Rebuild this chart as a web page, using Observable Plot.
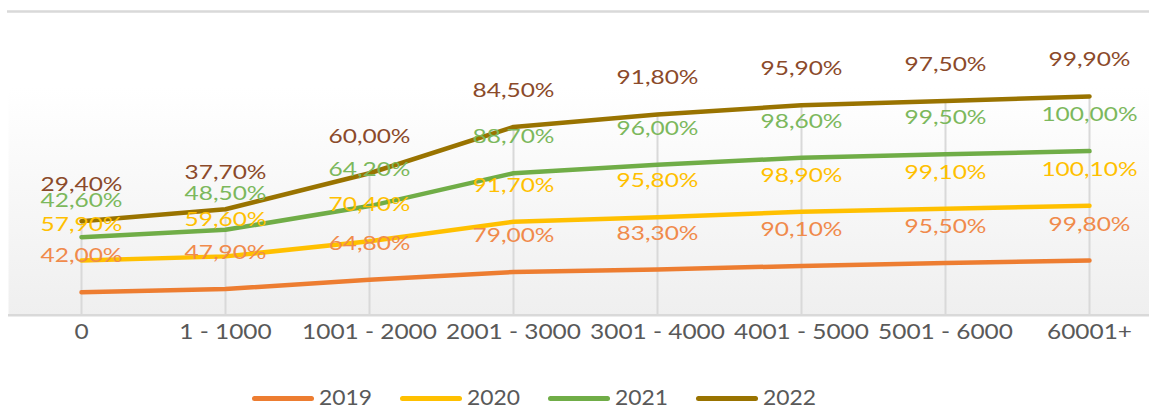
<!DOCTYPE html>
<html><head><meta charset="utf-8">
<script src="https://cdn.jsdelivr.net/npm/d3@7"></script>
<script src="https://cdn.jsdelivr.net/npm/@observablehq/plot@0.6"></script>
<style>
html,body{margin:0;padding:0;background:#fff;}
#wrap{position:relative;width:1149px;height:407px;overflow:hidden;font-family:Lato,sans-serif;}
#chart svg{display:block;}
#legend{position:absolute;left:252px;top:387px;height:20px;display:flex;align-items:center;}
.item{display:flex;align-items:center;width:148px;}
.sw{display:inline-block;width:62px;height:5px;border-radius:2.5px;margin-right:5px;margin-top:3px;}
.lt{display:inline-block;font-size:21px;line-height:20px;color:#595959;transform-origin:left center;}
</style></head><body>
<div id="wrap"><div id="chart"></div><div id="legend"></div></div>
<script>
const categories = ["0","1 - 1000","1001 - 2000","2001 - 3000","3001 - 4000","4001 - 5000","5001 - 6000","60001+"];
const years = ["2019","2020","2021","2022"];
const v2019 = [42.0,47.9,64.8,79.0,83.3,90.1,95.5,99.8];
const v2020 = [57.9,59.6,70.4,91.7,95.8,98.9,99.1,100.1];
const v2021 = [42.6,48.5,64.2,88.7,96.0,98.6,99.5,100.0];
const v2022 = [29.4,37.7,60.0,84.5,91.8,95.9,97.5,99.9];
const yMax = 555;

const series = [v2019, v2020, v2021, v2022];
const lineColors = ["#ED7D31","#FFC000","#70AD47","#997300"];
const labelColors = ["#F08A4B","#FFC000","#7CB85C","#8B4A2A"];

// stacked rows (Excel stacked line)
const rows = [];
const cum = categories.map(() => 0);
series.forEach((vals, s) => {
  vals.forEach((v, i) => {
    cum[i] += v;
    rows.push({cat: categories[i], year: years[s], value: v, top: cum[i]});
  });
});
const totals = categories.map((c, i) => ({cat: c, total: cum[i]}));
const fmt = v => v.toFixed(2).replace(".", ",") + "%";

const marks = [
  Plot.frame({fill: "url(#plotBg)", stroke: "none", insetLeft: -72, insetRight: -59}),
  Plot.ruleY([yMax], {stroke: "#d9d9d9", strokeWidth: 2.5, insetLeft: -73, insetRight: -59}),
  Plot.ruleX(totals, {x: "cat", y1: 0, y2: "total", stroke: "#d9d9d9", strokeWidth: 2}),
  Plot.ruleY([0], {stroke: "#d9d9d9", strokeWidth: 2.5, insetLeft: -72, insetRight: -59}),
  Plot.lineY(rows, {x: "cat", y: "top", z: "year", stroke: "year", strokeWidth: 4.5, strokeLinecap: "round", strokeLinejoin: "round"}),
  Plot.axisX({tickSize: 0, tickPadding: 23.6, fontSize: 21, fill: "#595959", label: null})
];
years.forEach((y, s) => {
  marks.push(Plot.text(rows.filter(r => r.year === y), {
    x: "cat", y: "top", text: d => fmt(d.value), dy: -30,
    fill: labelColors[s], fontSize: 19.5
  }));
});

const chart = Plot.plot({
  width: 1149, height: 375,
  marginLeft: 80, marginRight: 59, marginTop: 11, marginBottom: 60.3,
  x: {type: "point", domain: categories, padding: 0, label: null},
  y: {domain: [0, yMax], axis: null},
  color: {domain: years, range: lineColors},
  style: {fontFamily: "Lato, sans-serif", background: "transparent", overflow: "visible"},
  marks
});
document.getElementById("chart").appendChild(chart);

// gradient background of plot area
const ns = "http://www.w3.org/2000/svg";
const defs = document.createElementNS(ns, "defs");
defs.innerHTML = '<linearGradient id="plotBg" x1="0" y1="0" x2="0" y2="1">' +
  '<stop offset="0.25" stop-color="#ffffff"/><stop offset="1" stop-color="#efefef"/></linearGradient>';
chart.insertBefore(defs, chart.firstChild);

// horizontally stretch text (reference glyphs are wide)
function stretch(el, S) {
  const x = +el.getAttribute("x") || 0, y = +el.getAttribute("y") || 0;
  el.removeAttribute("x"); el.removeAttribute("y");
  const t = el.getAttribute("transform") || "";
  el.setAttribute("transform", `${t} translate(${x},${y}) scale(${S},1)`);
}
const texts = Array.from(chart.querySelectorAll("text"));
const ref = texts.find(t => t.textContent === "42,00%");
const refT = texts.find(t => t.textContent === "1001 - 2000");
const Sl = ref ? 82 / ref.getComputedTextLength() : 1.24;
const St = refT ? 135 / refT.getComputedTextLength() : 1.28;
texts.forEach(t => {
  const isTick = categories.includes(t.textContent);
  stretch(t, isTick ? St : Sl);
});

// legend
const legend = document.getElementById("legend");
years.forEach((y, s) => {
  const it = document.createElement("div"); it.className = "item";
  const sw = document.createElement("span"); sw.className = "sw"; sw.style.background = lineColors[s];
  const lt = document.createElement("span"); lt.className = "lt"; lt.textContent = y;
  it.appendChild(sw); it.appendChild(lt); legend.appendChild(it);
  const w = lt.getBoundingClientRect().width;
  lt.style.transform = `scaleX(${53 / w})`;
});
</script>
</body></html>
